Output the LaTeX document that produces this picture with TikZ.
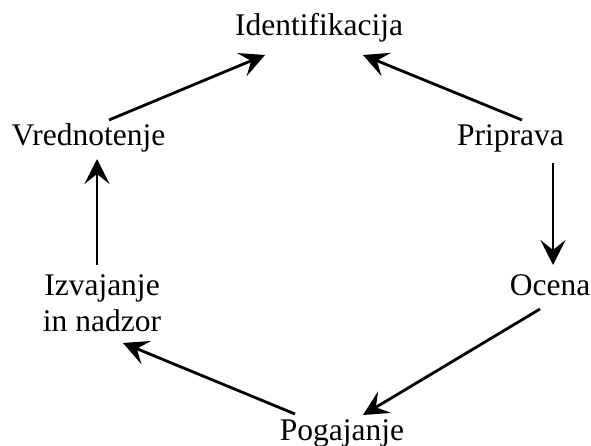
\documentclass[tikz,border=0pt]{standalone}
\usepackage{fontspec}
\setmainfont{Liberation Serif}
\usetikzlibrary{arrows.meta}
\begin{document}
\begin{tikzpicture}[x=1pt,y=-1pt,
  stage/.style={inner sep=0pt, anchor=base, align=center,
    font=\fontsize{31.5}{36}\selectfont},
  flow/.style={line width=2.8pt, -{Stealth[length=25pt,width=25pt,inset=10pt]}}]
  \useasboundingbox (0,0) rectangle (591,446);
  % cycle stages (a two-line node sits on the baseline of its last line)
  \node[stage] (ident) at (319,36)  {Identifikacija};
  \node[stage] (vred)  at (88.5,146) {Vrednotenje};
  \node[stage] (prip)  at (510.5,146) {Priprava};
  \node[stage] (ocena) at (550,295) {Ocena};
  \node[stage] (pog)   at (342,440) {Pogajanje};
  \node[stage] (izv)   at (102,331) {Izvajanje\\in nadzor};
  % cycle arrows
  \draw[flow] ([shift={(20.5,-26)}]vred.base) -- ([shift={(-54,19)}]ident.base);
  \draw[flow] ([shift={(11.5,-26)}]prip.base) -- ([shift={(44,19)}]ident.base);
  \draw[flow] ([shift={(42.5,17)}]prip.base) -- ([shift={(3,-30)}]ocena.base);
  \draw[flow] ([shift={(-10,14)}]ocena.base) -- ([shift={(21,-25)}]pog.base);
  \draw[flow] ([shift={(-47,-26)}]pog.base) -- ([shift={(21,12)}]izv.base);
  \draw[flow] ([shift={(-5,-66)}]izv.base) -- ([shift={(8.5,13)}]vred.base);
\end{tikzpicture}
\end{document}
